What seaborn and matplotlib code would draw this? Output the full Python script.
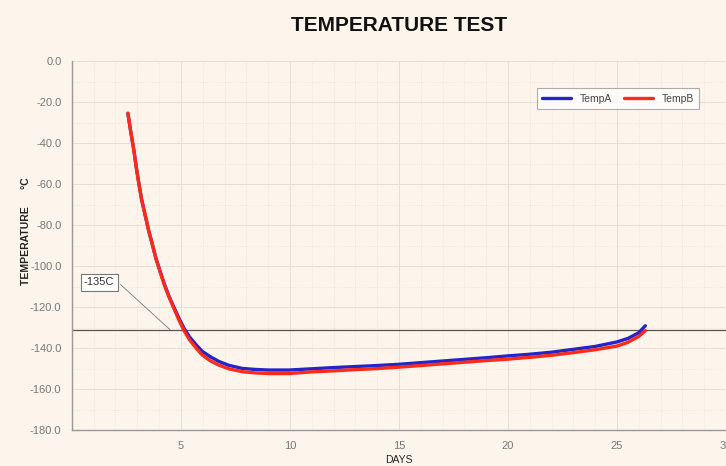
import numpy as np
import pandas as pd
import matplotlib
matplotlib.use("Agg")
import matplotlib.pyplot as plt
from matplotlib.ticker import MultipleLocator, FormatStrFormatter
import seaborn as sns

# --- DATA ---
days = [2.57, 2.7, 2.84, 2.95, 3.07, 3.2, 3.38, 3.52, 3.68, 3.85, 4.07, 4.25,
        4.45, 4.7, 4.91, 5.14, 5.4, 5.7, 5.98, 6.35, 6.74, 7.2, 7.81, 8.4,
        9.04, 9.95, 11.0, 12.0, 13.0, 14.0, 15.0, 16.0, 17.0, 18.0, 19.0, 20.0,
        21.0, 22.0, 23.0, 24.0, 25.0, 25.5, 26.0, 26.3]
temp_a = [-25.5, -34.5, -43.2, -51.5, -59.5, -67.5, -76, -82.5, -89, -96,
          -103.3, -109, -114.6, -120.5, -125.4, -130.3, -134.6, -138.4, -141.6,
          -144.2, -146.5, -148.4, -149.9, -150.4, -150.7, -150.7, -150.1, -149.5,
          -149, -148.5, -147.9, -147.1, -146.3, -145.5, -144.7, -143.8, -143,
          -142, -140.6, -139.2, -137, -135.3, -132.5, -129.1]
temp_b = [-25.5, -34.5, -43.4, -51.7, -59.7, -67.8, -76, -82.8, -89, -96.2,
          -103.6, -109.5, -115, -121.2, -126.3, -131.4, -136, -140, -143.4,
          -146.2, -148.3, -150.1, -151.5, -152.1, -152.4, -152.4, -151.6, -151.1,
          -150.5, -150, -149.3, -148.5, -147.7, -146.9, -146.1, -145.4, -144.5,
          -143.5, -142.2, -140.8, -139, -137.2, -134.3, -131.5]
limit_value = -131
limit_label = "-135C"

df = pd.DataFrame({"DAYS": days * 2,
                   "TEMP": temp_a + temp_b,
                   "series": ["TempA"] * len(days) + ["TempB"] * len(days)})

# --- PLOT ---
bg = "#fdf5ec"
sns.set_style("white")
plt.rcParams["font.family"] = ["Liberation Sans", "DejaVu Sans"]

fig = plt.figure(figsize=(7.26, 4.66), dpi=100, facecolor=bg)
ax = fig.add_axes([0.099, 0.077, 0.901, 0.792], facecolor=bg)

sns.lineplot(data=df, x="DAYS", y="TEMP", hue="series",
             palette={"TempA": "#2424c8", "TempB": "#ff2a1a"},
             linewidth=2.4, ax=ax, sort=False, estimator=None)

ax.axhline(limit_value, color="#555555", linewidth=0.9, zorder=1)
ax.annotate(limit_label, xy=(4.5, limit_value), xytext=(0.55, -108),
            fontsize=8, color="#333333", va="center", ha="left",
            bbox=dict(boxstyle="square,pad=0.3", fc="white", ec="#777777", lw=0.8),
            arrowprops=dict(arrowstyle="-", color="#777777", lw=0.6,
                            shrinkA=0, shrinkB=0, relpos=(1.2, 0.3)))

ax.set_xlim(0, 30)
ax.set_ylim(-180, 0)
ax.set_xticks([5, 10, 15, 20, 25, 30])
ax.yaxis.set_major_locator(MultipleLocator(20))
ax.yaxis.set_major_formatter(FormatStrFormatter("%.1f"))
ax.xaxis.set_minor_locator(MultipleLocator(1))
ax.yaxis.set_minor_locator(MultipleLocator(10))

ax.grid(which="major", color="#e6dfd6", linewidth=0.7)
ax.grid(which="minor", color="#e9e2d8", linewidth=0.6, linestyle=":")
ax.tick_params(axis="both", which="major", labelsize=8, labelcolor="#777777",
               length=4, color="#999999", direction="out")
ax.tick_params(axis="both", which="minor", length=0)

for side in ["top", "right"]:
    ax.spines[side].set_visible(False)
for side in ["left", "bottom"]:
    ax.spines[side].set_color("#999999")
    ax.spines[side].set_linewidth(1.0)

ax.set_xlabel("DAYS", fontsize=7.5, labelpad=3, color="#222222")
ax.set_ylabel("TEMPERATURE      \u00b0C", fontsize=7.5, labelpad=-2,
              color="#222222", fontweight="bold")
ax.yaxis.set_label_coords(-0.062, 0.54)
fig.suptitle("TEMPERATURE TEST", fontsize=15, fontweight="bold", y=0.965,
             x=0.55, color="#111111")

leg = ax.legend(loc="upper right", bbox_to_anchor=(0.967, 0.94), ncol=2,
                fontsize=7.5, frameon=True, fancybox=False, handlelength=2.8,
                columnspacing=1.2, borderpad=0.5, title=None)
leg.get_frame().set_edgecolor("#999999")
leg.get_frame().set_linewidth(0.8)
for t in leg.get_texts():
    t.set_color("#444444")

fig.savefig("out.png", dpi=100, facecolor=bg)
